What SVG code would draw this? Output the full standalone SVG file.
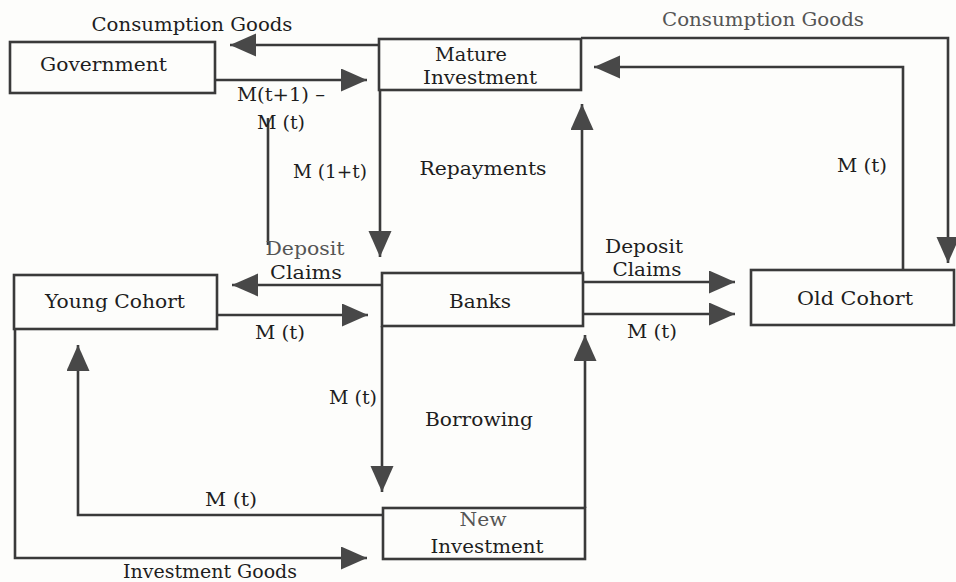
<svg xmlns="http://www.w3.org/2000/svg" width="956" height="582" viewBox="0 0 956 582">
<defs>
<style>
.box{fill:none;stroke:#3a3a3a;stroke-width:2.6}
.ln{fill:none;stroke:#3a3a3a;stroke-width:2.6;stroke-linejoin:miter}
.arr{marker-end:url(#ah)}
text{font-family:"DejaVu Serif","Liberation Serif",serif;font-size:18.5px;fill:#1e1e1e}
.c{text-anchor:middle}
.f{fill:#555}
</style>
<marker id="ah" markerUnits="userSpaceOnUse" markerWidth="28" markerHeight="24" refX="26" refY="11.5" orient="auto">
<path d="M0,0 L26,11.5 L0,23 Z" fill="#484848"/>
</marker>
</defs>
<rect width="956" height="582" fill="#fdfdfb"/>

<g id="connectors">
<line class="ln arr" x1="379" y1="45" x2="230" y2="45"/>
<line class="ln arr" x1="215" y1="80" x2="367" y2="80"/>
<line class="ln" x1="268" y1="118" x2="268" y2="245"/>
<line class="ln arr" x1="380" y1="90" x2="380" y2="257"/>
<line class="ln arr" x1="382" y1="285" x2="232" y2="285"/>
<line class="ln arr" x1="217" y1="315" x2="368" y2="315"/>
<line class="ln arr" x1="583" y1="282" x2="735" y2="282"/>
<line class="ln arr" x1="583" y1="314" x2="735" y2="314"/>
<line class="ln arr" x1="582" y1="273" x2="582" y2="104"/>
<polyline class="ln arr" points="903,270 903,67 594,67"/>
<polyline class="ln arr" points="581,38 948,38 948,263"/>
<line class="ln arr" x1="382" y1="326" x2="382" y2="492"/>
<polyline class="ln arr" points="383,515 78,515 78,345"/>
<polyline class="ln arr" points="15,329 15,558 367,558"/>
<line class="ln arr" x1="585" y1="508" x2="585" y2="335"/>
</g>

<g id="government">
<rect class="box" x="10" y="42" width="205" height="51"/>
<text x="40" y="71" textLength="127" lengthAdjust="spacingAndGlyphs">Government</text>
</g>
<g id="mature-investment">
<rect class="box" x="379" y="39" width="202" height="51"/>
<text class="c" x="471" y="61" textLength="72" lengthAdjust="spacingAndGlyphs">Mature</text>
<text class="c" x="480" y="84" textLength="114" lengthAdjust="spacingAndGlyphs">Investment</text>
</g>
<g id="young-cohort">
<rect class="box" x="14" y="275" width="203" height="54"/>
<text x="45" y="308" textLength="140" lengthAdjust="spacingAndGlyphs">Young Cohort</text>
</g>
<g id="banks">
<rect class="box" x="382" y="273" width="201" height="53"/>
<text class="c" x="480" y="308" textLength="62" lengthAdjust="spacingAndGlyphs">Banks</text>
</g>
<g id="old-cohort">
<rect class="box" x="751" y="270" width="203" height="55"/>
<text class="c" x="855" y="305" textLength="116" lengthAdjust="spacingAndGlyphs">Old Cohort</text>
</g>
<g id="new-investment">
<rect class="box" x="383" y="508" width="202" height="51"/>
<text class="c f" x="483" y="526" textLength="47" lengthAdjust="spacingAndGlyphs">New</text>
<text class="c" x="487" y="553" textLength="113" lengthAdjust="spacingAndGlyphs">Investment</text>
</g>

<g id="labels">
<text class="c" x="192" y="31" textLength="201" lengthAdjust="spacingAndGlyphs">Consumption Goods</text>
<text class="c f" x="763" y="26" textLength="202" lengthAdjust="spacingAndGlyphs">Consumption Goods</text>
<text class="c" x="281" y="101" textLength="88" lengthAdjust="spacingAndGlyphs">M(t+1) –</text>
<text class="c" x="281" y="129" textLength="48" lengthAdjust="spacingAndGlyphs">M (t)</text>
<text class="c" x="330" y="178" textLength="74" lengthAdjust="spacingAndGlyphs">M (1+t)</text>
<text class="c" x="483" y="175" textLength="127" lengthAdjust="spacingAndGlyphs">Repayments</text>
<text class="c" x="862" y="172" textLength="50" lengthAdjust="spacingAndGlyphs">M (t)</text>
<text class="c f" x="305" y="255" textLength="79" lengthAdjust="spacingAndGlyphs">Deposit</text>
<text class="c" x="306" y="279" textLength="72" lengthAdjust="spacingAndGlyphs">Claims</text>
<text class="c" x="644" y="253" textLength="78" lengthAdjust="spacingAndGlyphs">Deposit</text>
<text class="c" x="647" y="276" textLength="69" lengthAdjust="spacingAndGlyphs">Claims</text>
<text class="c" x="280" y="339" textLength="50" lengthAdjust="spacingAndGlyphs">M (t)</text>
<text class="c" x="652" y="338" textLength="50" lengthAdjust="spacingAndGlyphs">M (t)</text>
<text class="c" x="353" y="404" textLength="48" lengthAdjust="spacingAndGlyphs">M (t)</text>
<text class="c" x="479" y="426" textLength="108" lengthAdjust="spacingAndGlyphs">Borrowing</text>
<text class="c" x="231" y="506" textLength="52" lengthAdjust="spacingAndGlyphs">M (t)</text>
<text class="c" x="210" y="578" textLength="174" lengthAdjust="spacingAndGlyphs">Investment Goods</text>
</g>
</svg>
